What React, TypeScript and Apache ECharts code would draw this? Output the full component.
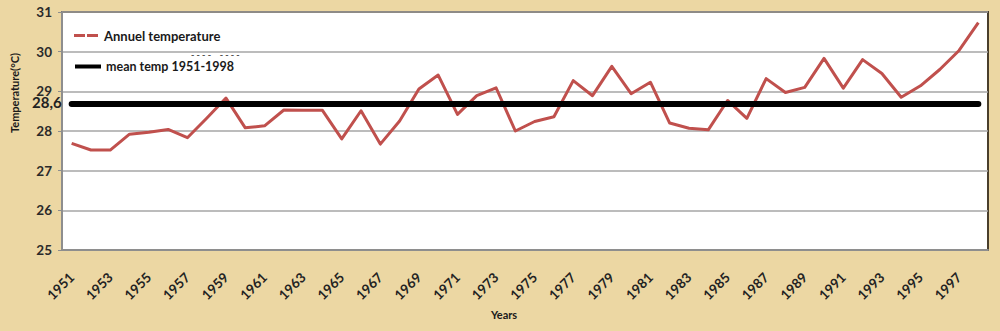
import React, { useEffect, useRef } from "react";
import * as echarts from "echarts";

const years: string[] = [
  "1951","1952","1953","1954","1955","1956","1957","1958","1959","1960",
  "1961","1962","1963","1964","1965","1966","1967","1968","1969","1970",
  "1971","1972","1973","1974","1975","1976","1977","1978","1979","1980",
  "1981","1982","1983","1984","1985","1986","1987","1988","1989","1990",
  "1991","1992","1993","1994","1995","1996","1997","1998",
];

const annualTemp: number[] = [
  27.69, 27.52, 27.52, 27.92, 27.97, 28.04, 27.83, 28.32, 28.83, 28.08,
  28.13, 28.53, 28.52, 28.52, 27.80, 28.51, 27.67, 28.25, 29.06, 29.41,
  28.42, 28.89, 29.09, 28.00, 28.24, 28.36, 29.27, 28.89, 29.63, 28.94,
  29.23, 28.20, 28.07, 28.03, 28.77, 28.32, 29.32, 28.97, 29.10, 29.83,
  29.08, 29.80, 29.45, 28.85, 29.14, 29.55, 30.03, 30.73,
];

const meanTemp: number[] = [
  28.68, 28.68, 28.68, 28.68, 28.68, 28.68, 28.68, 28.68, 28.68, 28.68,
  28.68, 28.68, 28.68, 28.68, 28.68, 28.68, 28.68, 28.68, 28.68, 28.68,
  28.68, 28.68, 28.68, 28.68, 28.68, 28.68, 28.68, 28.68, 28.68, 28.68,
  28.68, 28.68, 28.68, 28.68, 28.68, 28.68, 28.68, 28.68, 28.68, 28.68,
  28.68, 28.68, 28.68, 28.68, 28.68, 28.68, 28.68, 28.68,
];

const meanLabel = "28,6";
const seriesNames = ["Annuel temperature", "mean temp 1951-1998"];
const yMin = 25;
const yMax = 31;

const FONT = "Lato, 'Open Sans', sans-serif";

export default function App() {
  const ref = useRef<HTMLDivElement>(null);

  useEffect(() => {
    if (!ref.current) return;
    const chart = echarts.init(ref.current, undefined, { renderer: "svg" });
    chart.setOption({
      animation: false,
      backgroundColor: "#ecd7a3",
      grid: {
        left: 62,
        right: 12,
        top: 12,
        bottom: 81,
        show: true,
        backgroundColor: "#ffffff",
        borderColor: "#4a3f2c",
        borderWidth: 2,
      },
      legend: [
        {
          data: [seriesNames[0]],
          left: 74,
          top: 29,
          padding: 0,
          itemWidth: 26,
          itemHeight: 3,
          itemGap: 4,
          icon: "path://M0,0H11V3H0Z M13,0H24V3H13Z",
          textStyle: {
            fontFamily: FONT,
            fontWeight: "bold",
            fontSize: 13,
            color: "#1a1a1a",
            padding: [0, 0, 10, 0],
          },
        },
        {
          data: [seriesNames[1]],
          left: 75,
          top: 60,
          padding: 0,
          itemWidth: 26,
          itemHeight: 4,
          itemGap: 6,
          icon: "path://M0,0H26V4H0Z",
          textStyle: {
            fontFamily: FONT,
            fontWeight: "bold",
            fontSize: 12.5,
            color: "#1a1a1a",
            padding: [0, 0, 16, 0],
          },
        },
      ],
      graphic: [
        {
          type: "text",
          left: 191,
          top: 50,
          style: {
            text: "- - - -    - - - -",
            fontSize: 9,
            fontWeight: "bold",
            fill: "#555",
            fontFamily: FONT,
          },
        },
      ],
      xAxis: {
        type: "category",
        data: years,
        boundaryGap: true,
        name: "Years",
        nameLocation: "middle",
        nameGap: 58,
        nameTextStyle: {
          fontFamily: FONT,
          fontWeight: "bold",
          fontSize: 11,
          color: "#1a1a1a",
          padding: [0, 42, 0, 0],
        },
        axisLine: { lineStyle: { color: "#8e8e8e", width: 2 } },
        axisTick: {
          alignWithLabel: true,
          interval: 0,
          length: 5,
          lineStyle: { color: "#8e8e8e", width: 1.5 },
        },
        axisLabel: {
          interval: 1,
          rotate: 45,
          margin: 25,
          fontFamily: FONT,
          fontWeight: "bold",
          fontSize: 13.5,
          color: "#222",
        },
        splitLine: { show: false },
      },
      yAxis: {
        type: "value",
        min: yMin,
        max: yMax,
        interval: 1,
        name: "Temperature(°C)",
        nameLocation: "middle",
        nameGap: 42,
        nameTextStyle: {
          fontFamily: FONT,
          fontWeight: "bold",
          fontSize: 11,
          color: "#1a1a1a",
          padding: [0, 0, 0, 76],
        },
        axisLine: { show: true, lineStyle: { color: "#8e8e8e", width: 2 } },
        axisTick: { show: true, length: 4, lineStyle: { color: "#8e8e8e" } },
        axisLabel: {
          margin: 10,
          fontFamily: FONT,
          fontWeight: "bold",
          fontSize: 13.5,
          color: "#2a2a2a",
        },
        splitLine: { lineStyle: { color: "#a6a6a6", width: 1.5 } },
      },
      series: [
        {
          name: seriesNames[0],
          type: "line",
          data: annualTemp,
          showSymbol: false,
          symbol: "none",
          color: "#c0504d",
          lineStyle: { color: "#c0504d", width: 3, join: "round" },
          z: 2,
        },
        {
          name: seriesNames[1],
          type: "line",
          data: meanTemp,
          showSymbol: true,
          symbol: "circle",
          symbolSize: 0,
          color: "#000000",
          lineStyle: { color: "#000000", width: 6, cap: "round" },
          z: 3,
          label: {
            show: true,
            position: "left",
            distance: 10,
            offset: [0, -2],
            formatter: (p: any) => (p.dataIndex === 0 ? meanLabel : ""),
            fontFamily: FONT,
            fontWeight: "bold",
            fontSize: 15,
            color: "#222",
          },
        },
      ],
    });
    return () => chart.dispose();
  }, []);

  return (
    <div
      ref={ref}
      style={{ position: "fixed", left: 0, top: 0, width: 1000, height: 331 }}
    />
  );
}
